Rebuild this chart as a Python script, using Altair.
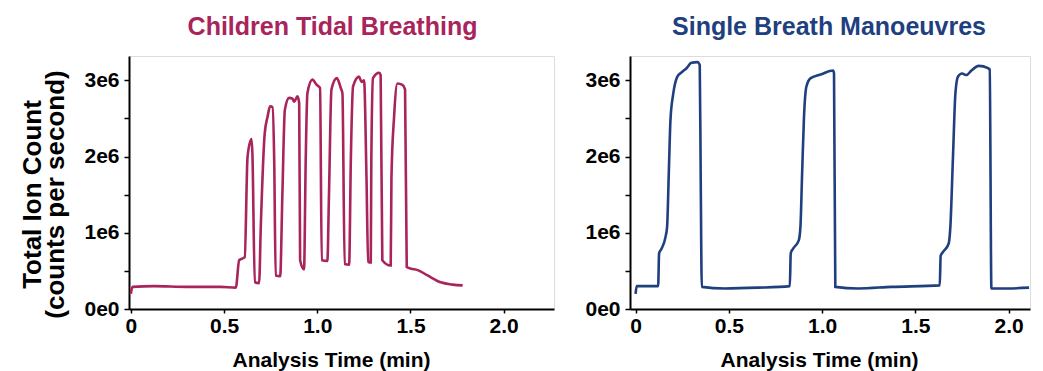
import altair as alt
import pandas as pd

# Children tidal breathing trace (time in min, total ion count in millions of counts/s)
tidal_time = [0.000, 0.009, 0.125, 0.300, 0.480, 0.563, 0.581, 0.611, 0.626, 0.647,
              0.652, 0.665, 0.688, 0.697, 0.718, 0.733, 0.747, 0.760, 0.769, 0.777,
              0.801, 0.813, 0.826, 0.849, 0.867, 0.876, 0.894, 0.903, 0.908, 0.929,
              0.938, 0.947, 0.974, 0.997, 1.015, 1.024, 1.054, 1.063, 1.076, 1.105,
              1.126, 1.135, 1.147, 1.171, 1.180, 1.192, 1.224, 1.237, 1.251, 1.264,
              1.273, 1.287, 1.290, 1.299, 1.332, 1.340, 1.349, 1.394, 1.398, 1.412,
              1.430, 1.457, 1.471, 1.480, 1.501, 1.539, 1.592, 1.662, 1.727, 1.780]
tidal_tic = [0.20, 0.29, 0.30, 0.29, 0.29, 0.28, 0.64, 0.68, 2.00, 2.23,
             2.04, 0.35, 0.34, 1.08, 2.30, 2.52, 2.66, 2.65, 1.95, 0.44,
             0.43, 1.52, 2.61, 2.77, 2.76, 2.72, 2.79, 2.70, 0.64, 0.52,
             1.95, 2.83, 3.01, 2.94, 2.90, 0.64, 0.63, 1.52, 2.88, 3.03,
             2.90, 2.83, 0.59, 0.58, 1.95, 2.92, 3.05, 2.98, 3.00, 1.73,
             0.62, 0.61, 1.95, 3.03, 3.10, 3.07, 0.64, 0.57, 1.73, 2.52,
             2.96, 2.94, 2.88, 0.55, 0.53, 0.51, 0.44, 0.35, 0.32, 0.31]

# Single breath manoeuvres trace
single_time = [0.000, 0.006, 0.121, 0.126, 0.139, 0.160, 0.169, 0.178, 0.187, 0.201,
               0.224, 0.249, 0.273, 0.299, 0.332, 0.344, 0.349, 0.355, 0.478, 0.657,
               0.827, 0.832, 0.844, 0.875, 0.884, 0.893, 0.903, 0.916, 0.939, 0.996,
               1.059, 1.064, 1.071, 1.193, 1.372, 1.631, 1.636, 1.649, 1.679, 1.688,
               1.702, 1.715, 1.729, 1.751, 1.774, 1.801, 1.840, 1.890, 1.899, 1.908,
               1.997, 2.110]
single_tic = [0.20, 0.30, 0.30, 0.73, 0.79, 0.94, 1.08, 1.78, 2.48, 2.81,
              3.05, 3.11, 3.16, 3.23, 3.24, 3.20, 1.78, 0.29, 0.27, 0.28,
              0.30, 0.73, 0.79, 0.90, 1.08, 1.78, 2.52, 2.92, 3.03, 3.08,
              3.13, 3.09, 0.29, 0.27, 0.29, 0.31, 0.70, 0.75, 0.86, 1.08,
              2.00, 2.83, 3.05, 3.09, 3.07, 3.13, 3.19, 3.16, 3.14, 0.27,
              0.27, 0.28]

x_ticks = [0, 0.5, 1.0, 1.5, 2.0]
y_ticks = [0, 0.5, 1.0, 1.5, 2.0, 2.5, 3.0]

FONT = "Liberation Sans"
RED = "#A8245B"
BLUE = "#1F3F7F"

df_tidal = pd.DataFrame({"t": tidal_time, "v": tidal_tic})
df_single = pd.DataFrame({"t": single_time, "v": single_tic})

x_label_expr = "datum.value == 0 ? '0' : format(datum.value, '.1f')"
y_label_expr = ("datum.value % 1 == 0 ? (datum.value == 0 ? '0e0' : "
                "format(datum.value, 'd') + 'e6') : ''")


def panel(df, color, title, width, xdom, title_dx, xtitle_x, show_ytitle):
    y_axis_kwargs = dict(
        values=y_ticks, labelExpr=y_label_expr, tickSize=5, labelPadding=5,
        labelFontSize=21, labelFont=FONT, labelFontWeight="bold", labelColor="black",
        domainColor="black", domainWidth=2, tickColor="black", tickWidth=1.5,
        grid=False,
    )
    if show_ytitle:
        y_axis_kwargs.update(
            title=["Total Ion Count", "(counts per second)"],
            titleFontSize=26, titleFont=FONT, titleFontWeight="bold",
            titleColor="black", titleLineHeight=23,
            titleX=-89, titleY=138, titleAngle=270, titleBaseline="alphabetic",
            titleAlign="center",
        )
    else:
        y_axis_kwargs.update(title=None)
    return (
        alt.Chart(df)
        .mark_line(color=color, strokeWidth=2.6, interpolate="monotone", clip=True)
        .encode(
            x=alt.X("t:Q",
                    scale=alt.Scale(domain=xdom, nice=False, zero=False),
                    axis=alt.Axis(
                        values=x_ticks, labelExpr=x_label_expr, tickSize=4,
                        labelPadding=2, labelFontSize=21, labelFont=FONT,
                        labelFontWeight="bold", labelColor="black",
                        domainColor="black", domainWidth=2, tickColor="black",
                        tickWidth=1.5, grid=False,
                        title="Analysis Time (min)", titleFontSize=21,
                        titleFont=FONT, titleFontWeight="bold", titleColor="black",
                        titleX=xtitle_x, titleY=57, titleBaseline="alphabetic",
                    )),
            y=alt.Y("v:Q",
                    scale=alt.Scale(domain=[0, 3.32], nice=False),
                    axis=alt.Axis(**y_axis_kwargs)),
        )
        .properties(
            width=width, height=253,
            title=alt.TitleParams(title, fontSize=25, font=FONT, fontWeight="bold",
                                  color=color, anchor="middle", dx=title_dx,
                                  baseline="alphabetic", offset=-4),
        )
    )


left = panel(df_tidal, RED, "Children Tidal Breathing", 425, [-0.01, 2.27], -9, 202, True)
right = panel(df_single, BLUE, "Single Breath Manoeuvres", 400, [-0.03, 2.115], -1, 189, False)

chart = (
    alt.hconcat(left, right, spacing=29)
    .properties(padding={"left": 10, "top": 6, "right": 0, "bottom": 0})
    .configure_view(stroke=None)
    .configure(background="white")
)

chart.save("out.html", embed_options={"renderer": "svg", "actions": False})
